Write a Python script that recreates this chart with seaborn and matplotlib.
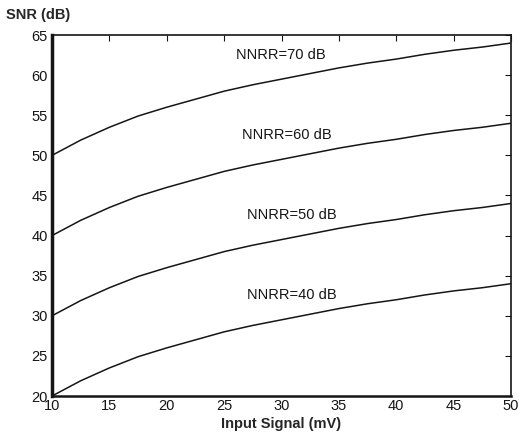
import matplotlib
matplotlib.use("Agg")
import matplotlib.pyplot as plt
import seaborn as sns
import pandas as pd

# Values
input_mv = [10, 12.5, 15, 17.5, 20, 22.5, 25, 27.5, 30, 32.5, 35, 37.5, 40, 42.5, 45, 47.5, 50]
snr_40 = [20.0, 21.9, 23.5, 24.9, 26.0, 27.0, 28.0, 28.8, 29.5, 30.2, 30.9, 31.5, 32.0, 32.6, 33.1, 33.5, 34.0]
snr_50 = [30.0, 31.9, 33.5, 34.9, 36.0, 37.0, 38.0, 38.8, 39.5, 40.2, 40.9, 41.5, 42.0, 42.6, 43.1, 43.5, 44.0]
snr_60 = [40.0, 41.9, 43.5, 44.9, 46.0, 47.0, 48.0, 48.8, 49.5, 50.2, 50.9, 51.5, 52.0, 52.6, 53.1, 53.5, 54.0]
snr_70 = [50.0, 51.9, 53.5, 54.9, 56.0, 57.0, 58.0, 58.8, 59.5, 60.2, 60.9, 61.5, 62.0, 62.6, 63.1, 63.5, 64.0]
series_names = ["NNRR=40 dB", "NNRR=50 dB", "NNRR=60 dB", "NNRR=70 dB"]
label_x = [30.86, 30.87, 30.45, 29.96]
label_y = [32.6, 42.56, 52.53, 62.5]
x_ticks = [10, 15, 20, 25, 30, 35, 40, 45, 50]
y_ticks = [20, 25, 30, 35, 40, 45, 50, 55, 60, 65]

sns.set_style("white")
plt.rcParams['font.family'] = ['Liberation Sans', 'DejaVu Sans']

rows = []
for name, vals in zip(series_names, [snr_40, snr_50, snr_60, snr_70]):
    for x, y in zip(input_mv, vals):
        rows.append({"x": x, "y": y, "series": name})
df = pd.DataFrame(rows)

fig = plt.figure(figsize=(5.19, 4.41), dpi=100)
ax = fig.add_axes([0.1002, 0.102, 0.8844, 0.8186])
sns.lineplot(data=df, x="x", y="y", units="series", estimator=None,
             color="#151515", linewidth=1.1, ax=ax, legend=False)

for name, lx, ly in zip(series_names, label_x, label_y):
    ax.text(lx, ly, name, ha="center", va="center", fontsize=10.5, color="#151515")

ax.set_xlim(10, 50)
ax.set_ylim(20, 65)
ax.set_xticks(x_ticks)
ax.set_yticks(y_ticks)
ax.tick_params(direction="in", length=4, width=0.8, top=True, right=True,
               labelsize=10.5, colors="#151515", pad=3)
ax.tick_params(axis="x", pad=2)
for s in ax.spines.values():
    s.set_color("#151515")
    s.set_linewidth(1.2)
ax.spines["left"].set_linewidth(2.5)
ax.spines["bottom"].set_linewidth(1.8)

ax.set_xlabel("Input Signal (mV)", fontsize=10.5, fontweight="bold", labelpad=3)
ax.set_ylabel("")
fig.text(0.012, 0.965, "SNR (dB)", fontsize=10.5, fontweight="bold", ha="left", va="center")

fig.savefig("out.png", dpi=100, facecolor="white")
